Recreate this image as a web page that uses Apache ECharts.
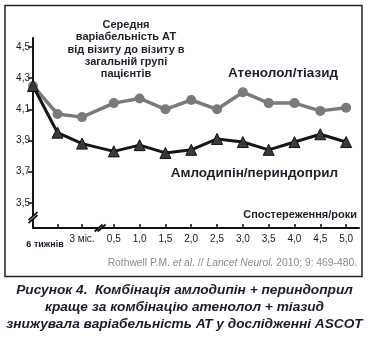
<!DOCTYPE html>
<html>
<head>
<meta charset="utf-8">
<script src="https://cdn.jsdelivr.net/npm/echarts@6/dist/echarts.min.js"></script>
<style>
  html, body { margin: 0; padding: 0; background: #fff; }
  #chart { width: 368px; height: 338px; }
</style>
</head>
<body>
<div id="chart"></div>
<script>
// Visit labels along the follow-up axis (first point is the baseline visit)
const categories = ['', '6 тижнів', '3 міс.', '0,5', '1,0', '1,5', '2,0', '2,5', '3,0', '3,5', '4,0', '4,5', '5,0'];
// Ordinal place of each visit on the broken follow-up axis
const visitOrder = [0, 0.95, 1.9, 3.13, 4.13, 5.13, 6.13, 7.13, 8.13, 9.13, 10.13, 11.13, 12.13];
// Mean visit-to-visit BP variability
const atenolol = [4.25, 4.07, 4.05, 4.14, 4.17, 4.10, 4.16, 4.10, 4.21, 4.14, 4.14, 4.09, 4.11];
const amlodipine = [4.25, 3.95, 3.88, 3.83, 3.87, 3.82, 3.84, 3.91, 3.89, 3.84, 3.89, 3.94, 3.89];
const yTicks = [3.5, 3.7, 3.9, 4.1, 4.3, 4.5];

const FONT = '"Liberation Sans", Arial, sans-serif';
const chart = echarts.init(document.getElementById('chart'), null, { renderer: 'canvas' });

const xTickValues = visitOrder.slice(1);

const option = {
  animation: false,
  backgroundColor: '#fff',
  grid: { left: 33, right: 9, top: 38, bottom: 110 },
  xAxis: {
    type: 'value',
    min: 0,
    max: 12.63,
    splitLine: { show: false },
    axisLine: { show: true, lineStyle: { color: '#111', width: 2 } },
    axisTick: {
      show: true, inside: true, length: 4,
      customValues: xTickValues,
      lineStyle: { color: '#111', width: 1.5 }
    },
    axisLabel: {
      customValues: xTickValues,
      margin: 6,
      color: '#1a1a1a',
      fontFamily: FONT,
      fontSize: 10,
      formatter: function (v) {
        const i = visitOrder.indexOf(v);
        if (i === 1) return '{w|' + categories[i] + '}';
        if (i === 2) return '{m|' + categories[i] + '}';
        return categories[i];
      },
      rich: {
        w: { fontSize: 9, fontWeight: 'bold', fontFamily: FONT, color: '#1a1a2a', padding: [6, 25, 0, 0] },
        m: { fontSize: 10, fontFamily: FONT, color: '#1a1a1a', padding: [0, 0, 2, 0] }
      }
    }
  },
  yAxis: {
    type: 'value',
    min: 3.338,
    max: 4.558,
    splitLine: { show: false },
    axisLine: { show: true, lineStyle: { color: '#111', width: 2 } },
    axisTick: {
      show: true, length: 5,
      customValues: yTicks,
      lineStyle: { color: '#111', width: 1.5 }
    },
    axisLabel: {
      customValues: yTicks,
      margin: 3,
      color: '#1a1a1a',
      fontFamily: FONT,
      fontSize: 10,
      formatter: v => v.toFixed(1).replace('.', ',')
    }
  },
  series: [
    {
      name: 'Атенолол/тіазид',
      type: 'line',
      data: visitOrder.map((x, i) => [x, atenolol[i]]),
      symbol: 'circle',
      symbolSize: 10,
      lineStyle: { color: '#7a7a7a', width: 3.5 },
      itemStyle: { color: '#7a7a7a' },
      z: 2
    },
    {
      name: 'Амлодипін/периндоприл',
      type: 'line',
      data: visitOrder.map((x, i) => [x, amlodipine[i]]),
      symbol: 'triangle',
      symbolSize: 11,
      lineStyle: { color: '#161616', width: 3 },
      itemStyle: { color: '#3a3a3a', borderColor: '#111', borderWidth: 1 },
      z: 3
    }
  ]
};
chart.setOption(option);

// Decorative pieces: frame, annotations, axis break marks, caption
function breakMark(cx, cy, dx, dy, gap, horizontal) {
  const off = horizontal ? [gap, 0] : [0, gap];
  return [
    {
      type: 'polygon',
      shape: { points: [
        [cx - dx - off[0] / 2, cy + dy - off[1] / 2],
        [cx + dx - off[0] / 2, cy - dy - off[1] / 2],
        [cx + dx + off[0] / 2, cy - dy + off[1] / 2],
        [cx - dx + off[0] / 2, cy + dy + off[1] / 2]
      ] },
      style: { fill: '#fff' }, z: 20
    },
    {
      type: 'line',
      shape: { x1: cx - dx - off[0] / 2, y1: cy + dy - off[1] / 2, x2: cx + dx - off[0] / 2, y2: cy - dy - off[1] / 2 },
      style: { stroke: '#111', lineWidth: 1.8 }, z: 21
    },
    {
      type: 'line',
      shape: { x1: cx - dx + off[0] / 2, y1: cy + dy + off[1] / 2, x2: cx + dx + off[0] / 2, y2: cy - dy + off[1] / 2 },
      style: { stroke: '#111', lineWidth: 1.8 }, z: 21
    }
  ];
}

const yBreak = chart.convertToPixel({ gridIndex: 0 }, [0, 3.405]);
const xBreak = chart.convertToPixel({ gridIndex: 0 }, [2.6, 3.338]);

const boldText = (text, x, y, size, align, fill) => ({
  type: 'text', x: x, y: y, z: 30,
  style: { text: text, fontFamily: FONT, fontSize: size, fontWeight: 'bold', fill: fill || '#1f1f2a', align: align || 'left', verticalAlign: 'middle' }
});

const graphics = [
  {
    type: 'rect', z: 0,
    shape: { x: 5, y: 5.5, width: 357, height: 271 },
    style: { fill: 'none', stroke: '#222', lineWidth: 1.5 }
  },
  boldText('Середня', 126, 25, 11, 'center'),
  boldText('варіабельність АТ', 126, 37, 11, 'center'),
  boldText('від візиту до візиту в', 126, 49.5, 11, 'center'),
  boldText('загальній групі', 126, 62, 11, 'center'),
  boldText('пацієнтів', 126, 74, 11, 'center'),
  boldText('Атенолол/тіазид', 338, 73, 13.5, 'right'),
  boldText('Амлодипін/периндоприл', 338, 173.5, 13.5, 'right'),
  boldText('Спостереження/роки', 357, 215, 11, 'right'),
  {
    type: 'text', x: 357, y: 263, z: 30,
    style: {
      text: 'Rothwell P.M. {i|et al.} // {i|Lancet Neurol.} 2010; 9: 469-480.',
      rich: { i: { fontStyle: 'italic', fontFamily: FONT, fontSize: 10.3, fill: '#8a8a8a' } },
      fontFamily: FONT, fontSize: 10.3, fill: '#8a8a8a', align: 'right', verticalAlign: 'middle'
    }
  }
];

['Рисунок 4.  Комбінація амлодипін + периндоприл',
 'краще за комбінацію атенолол + тіазид',
 'знижувала варіабельність АТ у дослідженні ASCOT'].forEach((line, k) => {
  graphics.push({
    type: 'text', x: 184.5, y: 290 + k * 17, z: 30,
    style: { text: line, fontFamily: FONT, fontSize: 13.7, fontWeight: 'bold', fontStyle: 'italic', fill: '#1b1b30', align: 'center', verticalAlign: 'middle' }
  });
});

graphics.push(...breakMark(yBreak[0], yBreak[1], 4.5, 4, 3, false));
graphics.push(...breakMark(xBreak[0], xBreak[1], 4, 3.5, 3, true));

chart.setOption({ graphic: graphics });
</script>
</body>
</html>
